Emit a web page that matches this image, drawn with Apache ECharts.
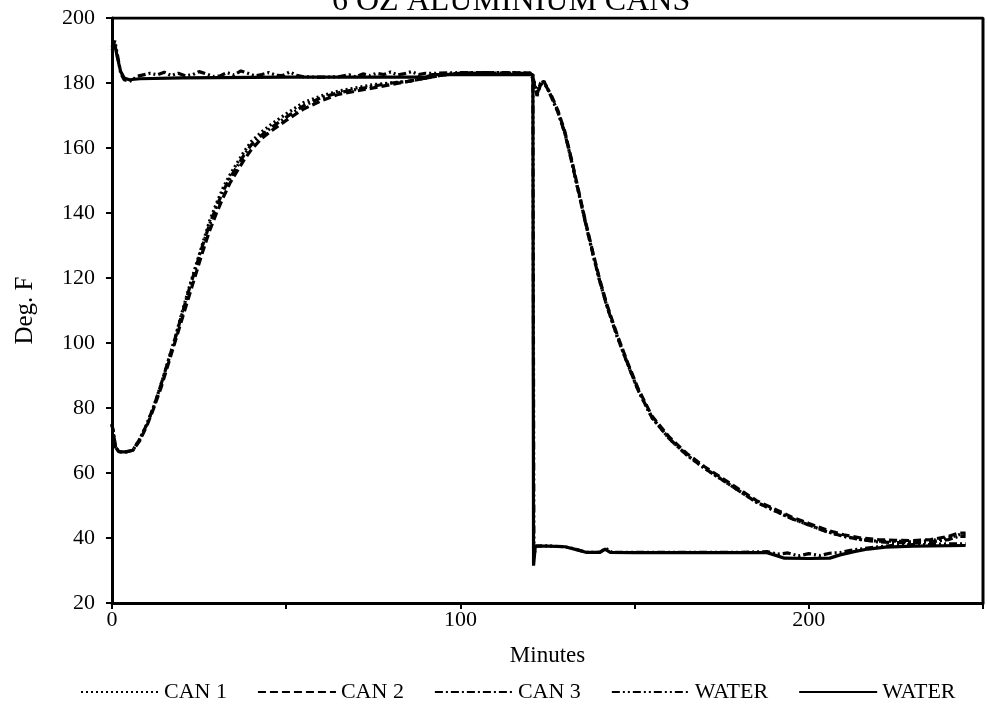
<!DOCTYPE html>
<html>
<head>
<meta charset="utf-8">
<title>6 OZ ALUMINIUM CANS</title>
<script src="https://cdn.jsdelivr.net/npm/echarts@6/dist/echarts.min.js"></script>
<style>
  html, body { margin: 0; padding: 0; background: #fff; }
  #chart { width: 987px; height: 707px; }
</style>
</head>
<body>
<div id="chart"></div>
<script>
// can temperatures (Deg. F), shared time grid (minutes)
var canTime = [0, 1, 2, 4, 6, 8, 10, 12, 14, 16, 18, 20, 22, 24, 26, 28, 30, 32, 34, 36, 38, 40, 43, 46, 50,
  55, 60, 65, 70, 75, 80, 85, 90, 95, 100, 105, 110, 115, 120, 121, 122, 123, 124, 126, 128, 130, 132, 134,
  136, 138, 140, 142, 145, 148, 151, 155, 160, 165, 170, 175, 180, 185, 190, 195, 200, 205, 210, 215, 220,
  225, 230, 235, 240, 243, 245];
var can1 = [75, 68, 66.5, 66.5, 67, 70.5, 75, 80.5, 87, 94, 101, 109, 116.5, 123.5, 130.5, 137.5, 143, 148,
  152, 155.5, 159, 162, 165, 167.5, 170.5, 174, 176, 177.5, 178.5, 179.5, 180, 180.5, 181.5, 182.5, 183, 183,
  183, 183, 183, 181, 177, 180, 180.5, 176, 171, 164.5, 155.5, 146, 136.5, 127.5, 119, 111.5, 102, 93.5, 85.5,
  77, 70.5, 65.5, 61.5, 58, 54.5, 51, 48.5, 46, 44, 42, 40.5, 39.5, 39, 39, 38.8, 39.2, 40, 41, 41];
var can2 = [75, 68, 66.5, 66.5, 67, 70, 74.5, 80, 86, 93, 100, 107, 114, 121, 128, 134.5, 140, 145, 149.5,
  153, 156.5, 159.5, 163, 165.5, 168.5, 172, 174.5, 176.5, 177.5, 178.5, 179.5, 180.5, 181.5, 182.5, 183,
  183.2, 183, 183.2, 183, 180.5, 176, 179.5, 180, 176.5, 171.5, 165, 156, 146.5, 137, 128, 119.5, 112, 102.5,
  94, 86, 77.5, 71, 66, 62, 58.5, 55, 51.5, 49, 46.5, 44.5, 42.5, 41, 40, 39.5, 39.3, 39.2, 39.5, 40.5, 41.5, 41.5];
var can3 = [75, 68, 66.5, 66.5, 67, 70.5, 75, 80.5, 87, 94, 101, 108.5, 116, 123, 130, 136.5, 142, 147, 151,
  154.5, 158, 161, 164, 166.5, 169.5, 173, 175.5, 177, 178, 179, 180, 180.5, 181.5, 182.5, 183, 183, 183.2,
  183, 183, 181, 176.5, 180, 180.5, 176, 171, 164.5, 155.5, 146, 136.5, 127.5, 119, 111.5, 102, 93.5, 85.5,
  77, 70.5, 65.5, 61.5, 58, 54.5, 51, 48.5, 46, 44, 42, 40.5, 39.5, 38.8, 38.6, 38.5, 38.8, 39.5, 40.5, 40.5];

// water bath, dash-dot-dot trace (noisy)
var water1Time = [0, 0.8, 1.5, 2.5, 3.5, 5, 6, 7, 9, 11, 13, 15, 17, 19, 21, 23, 25, 27, 29, 31, 33, 35, 37,
  39, 41, 43, 45, 47, 49, 51, 53, 55, 60, 65, 68, 70, 72, 74, 76, 78, 80, 82, 84, 86, 88, 90, 93, 100, 110,
  120.8, 121.1, 121.6, 125, 130, 133, 136, 140, 141.8, 143.5, 150, 160, 170, 180, 188, 191, 194, 197, 200,
  203, 206, 209, 212, 216, 220, 225, 230, 235, 240, 245];
var water1 = [191, 193, 189, 183, 181, 180.5, 181, 182, 182.5, 183, 182.5, 183.3, 182.3, 183, 182.2, 182.5,
  183.5, 182.8, 182, 182.2, 183.2, 182.5, 183.7, 183, 182.2, 182.6, 183.2, 182.4, 182.3, 183.4, 182.4, 181.9,
  181.8, 181.9, 182.5, 181.9, 182.8, 182.3, 183, 182.6, 183.4, 182.5, 182.9, 183.5, 182.6, 183, 183, 183.2,
  183.2, 183, 34, 37.5, 37.6, 37.3, 36.6, 35.6, 35.6, 36.8, 35.6, 35.6, 35.6, 35.6, 35.6, 35.8, 35, 35.4, 34.5,
  35.2, 34.6, 35.3, 35.5, 36.2, 36.8, 37.3, 37.8, 38, 38, 38.2, 38.2];

// water bath, solid trace
var water2Time = [0, 0.8, 1.5, 2.5, 3.5, 5, 8, 20, 50, 90, 92, 120.8, 121, 121.5, 125, 130, 133, 136, 140,
  141.5, 143, 150, 160, 170, 180, 188, 191, 193, 200, 206, 209, 213, 217, 222, 230, 245];
var water2 = [190, 192, 188, 183.5, 181.5, 181, 181.3, 181.6, 181.8, 181.8, 182.6, 182.6, 31.5, 37.5, 37.5,
  37.3, 36.5, 35.6, 35.6, 36.6, 35.6, 35.5, 35.5, 35.5, 35.5, 35.5, 34.5, 33.8, 33.7, 33.8, 34.8, 35.8, 36.6,
  37.2, 37.5, 37.7];

var xTicks = [0, 100, 200];

function pairs(ts, vs) {
  return ts.map(function(t, i) { return [t, vs[i]]; });
}

var serif = '"Liberation Serif", "DejaVu Serif", serif';

function lineSeries(name, ts, vs, dash, z) {
  return {
    name: name,
    type: 'line',
    data: pairs(ts, vs),
    symbol: 'none',
    showSymbol: false,
    smooth: false,
    z: z,
    lineStyle: { color: '#000', width: 3.2, type: dash },
    itemStyle: { color: '#000' }
  };
}

var chart = echarts.init(document.getElementById('chart'));
chart.setOption({
  animation: false,
  backgroundColor: '#fff',
  title: {
    text: '6 OZ ALUMINIUM CANS',
    left: 332,
    top: -14,
    padding: 0,
    textStyle: { fontFamily: serif, fontSize: 32, fontWeight: 'normal', color: '#000' }
  },
  grid: { left: 112, right: 4, top: 18, bottom: 104, containLabel: false },
  legend: {
    orient: 'horizontal',
    left: 80,
    top: 681,
    width: 905,
    padding: 0,
    itemWidth: 78,
    itemHeight: 14,
    itemGap: 30,
    itemStyle: { opacity: 0 },
    textStyle: { fontFamily: serif, fontSize: 22, color: '#000' },
    formatter: function(name) { return name === 'WATER 2' ? 'WATER' : name; },
    data: ['CAN 1', 'CAN 2', 'CAN 3', 'WATER', 'WATER 2']
  },
  xAxis: {
    type: 'value',
    min: 0,
    max: 250,
    interval: 50,
    name: 'Minutes',
    nameLocation: 'middle',
    nameGap: 41,
    nameTextStyle: { fontFamily: serif, fontSize: 23, color: '#000' },
    axisLine: { onZero: false, lineStyle: { color: '#000', width: 3 } },
    axisTick: { show: true, inside: false, length: 6, lineStyle: { color: '#000', width: 2 } },
    axisLabel: {
      margin: 6,
      fontFamily: serif,
      fontSize: 22,
      color: '#000',
      formatter: function(v) { return xTicks.indexOf(v) >= 0 ? String(v) : ''; }
    },
    splitLine: { show: false }
  },
  yAxis: {
    type: 'value',
    min: 20,
    max: 200,
    interval: 20,
    name: 'Deg. F',
    nameLocation: 'middle',
    nameGap: 74,
    nameTextStyle: { fontFamily: serif, fontSize: 25, color: '#000' },
    axisLine: { show: true, onZero: false, lineStyle: { color: '#000', width: 3 } },
    axisTick: { show: true, inside: false, length: 6, lineStyle: { color: '#000', width: 2 } },
    axisLabel: { margin: 17, fontFamily: serif, fontSize: 22, color: '#000' },
    splitLine: { show: false }
  },
  series: [
    lineSeries('CAN 1', canTime, can1, [2, 3], 3),
    lineSeries('CAN 2', canTime, can2, [8, 4], 3),
    lineSeries('CAN 3', canTime, can3, [8, 3, 2, 3], 3),
    lineSeries('WATER', water1Time, water1, [8, 3, 2, 3, 2, 3], 4),
    lineSeries('WATER 2', water2Time, water2, 'solid', 5),
    // box: top and right border of the plot area
    {
      type: 'line',
      data: [[0, 200], [250, 200], [250, 20]],
      symbol: 'none',
      silent: true,
      z: 6,
      lineStyle: { color: '#000', width: 3 },
      legendHoverLink: false
    }
  ]
});
</script>
</body>
</html>
